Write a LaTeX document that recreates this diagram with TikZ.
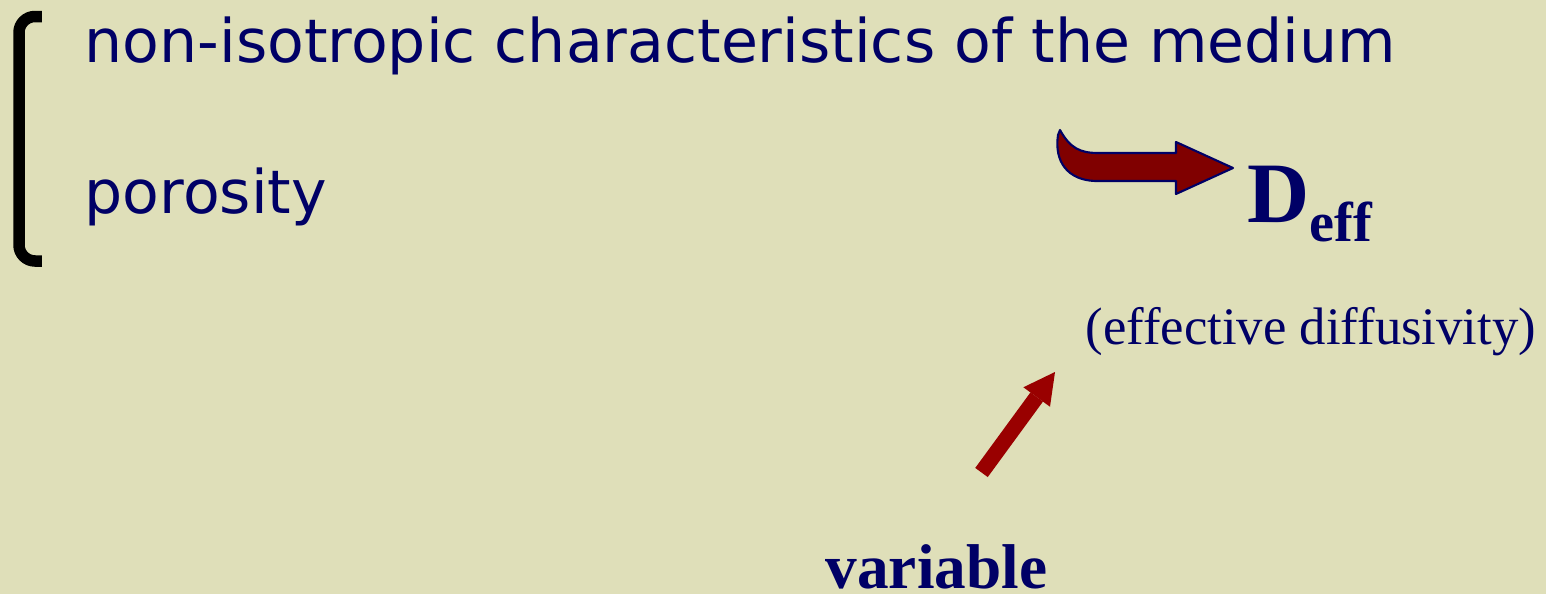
\documentclass[tikz,border=0pt]{standalone}
\usepackage{fontspec}
\setmainfont{Liberation Serif}
\newfontfamily\slidesans{DejaVu Sans}
\usetikzlibrary{arrows.meta,positioning,calc}
\definecolor{slidebg} {HTML}{DFDFB9}
\definecolor{navy}    {HTML}{000066}
\definecolor{bentred} {HTML}{800000}
\definecolor{pointred}{HTML}{990000}
\tikzset{
  item/.style    ={anchor=base west, inner sep=0pt, text=navy,
                   font=\slidesans\fontsize{17.1}{20}\selectfont},
  serif/.style   ={anchor=base west, inner sep=0pt, text=navy,
                   font=\fontsize{15}{18}\selectfont},
  bigbold/.style ={serif, font=\fontsize{24.5}{28}\selectfont\bfseries},
  tagbold/.style ={serif, font=\fontsize{18}{21}\selectfont\bfseries},
  brace/.style   ={draw=black, line width=1.15mm, rounded corners=1.6mm},
  bentarr/.style ={fill=bentred, draw=navy, line width=0.6pt, line join=round},
  pointarr/.style={draw=pointred, line width=1.55mm,
                   -{Triangle[length=3.1mm,width=3.3mm,line width=0pt]}},
}
\begin{document}
\begin{tikzpicture}[x=1cm,y=1cm]
  \fill[slidebg] (0,0) rectangle (15.46,5.94);
  \useasboundingbox (0,0) rectangle (15.46,5.94);
  % the two items in a bracket
  \draw[brace] (0.42,5.775) -- (0.19,5.775) -- (0.19,3.33) -- (0.42,3.33);
  \node[item] (aniso) at (0.84,5.32) {non-isotropic characteristics of the medium};
  \node[item] (poro)  at (0.84,3.81) {porosity};
  % what they give
  \node[bigbold] (deff) at (12.47,3.72)
    {D\raisebox{-0.2cm}{\fontsize{16}{18}\selectfont eff}};
  \draw[bentarr] (10.60,4.64) .. controls (10.70,4.46) and (10.80,4.41) .. (10.98,4.41)
    -- (11.76,4.41) -- (11.76,4.52) -- (12.33,4.26) -- (11.76,4.00) -- (11.76,4.13)
    -- (10.95,4.13) .. controls (10.68,4.14) and (10.54,4.32) .. (10.58,4.59) -- cycle;
  \node[serif] (eff) at (10.85,2.49) {(effective diffusivity)};
  % the pointer
  \node[tagbold] (var) at (8.25,0.06) {variable};
  \coordinate (vtail) at (9.815,1.215);
  \coordinate (vtip)  at (10.55,2.22);
  \draw[pointarr] (vtail) -- (vtip);
\end{tikzpicture}
\end{document}
